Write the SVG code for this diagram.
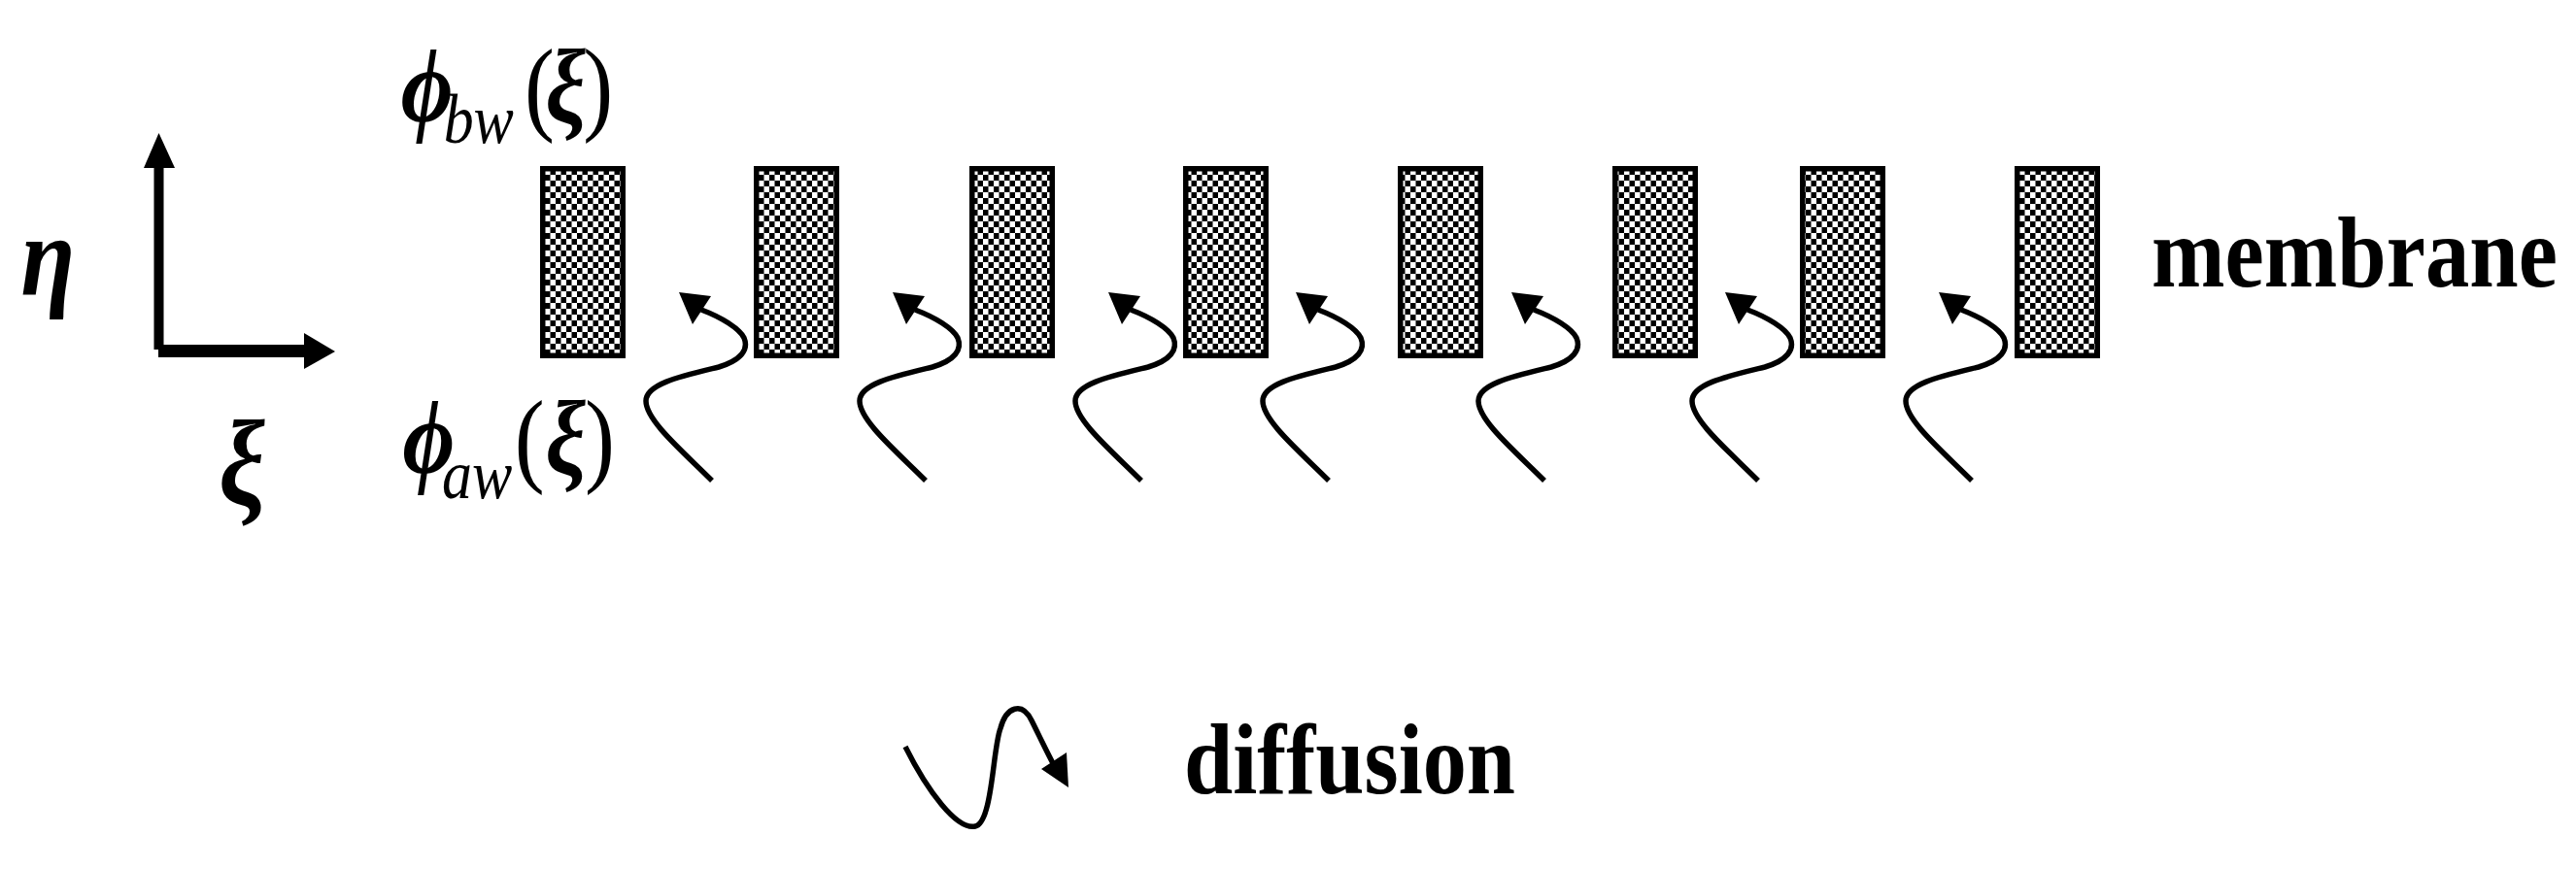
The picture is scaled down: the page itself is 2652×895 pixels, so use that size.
<svg xmlns="http://www.w3.org/2000/svg" xmlns:xlink="http://www.w3.org/1999/xlink" width="2652" height="895" viewBox="0 0 2652 895">
<style>
.memb{fill:url(#checker);stroke:#000;stroke-width:5.5}
.sq{fill:none;stroke:#000;stroke-width:5.5;stroke-linecap:butt}
.lbl{font-family:"Liberation Serif","Times New Roman",serif;fill:#000}
.bi{font-weight:bold;font-style:italic}
.it{font-weight:normal;font-style:italic}
.up{font-weight:normal;font-style:normal}
.b{font-weight:bold}
</style>
<defs>
<pattern id="checker" patternUnits="userSpaceOnUse" width="11" height="12">
<rect width="11" height="12" fill="#fff"/>
<rect width="5.5" height="6" fill="#000"/>
<rect x="5.5" y="6" width="5.5" height="6" fill="#000"/>
</pattern>
<g id="squiggle">
<path class="sq" d="M0,0 C-30,-30 -68,-62 -68,-82 C-68,-100 -30,-108 7,-117 C30,-124 38,-135 33,-147 C28,-157 10,-168 -11,-176"/>
<polygon points="-34,-194 -20,-161 -1,-190" fill="#000"/>
</g>
</defs>
<rect width="2652" height="895" fill="#fff"/>

<g id="axes">
<rect x="158.5" y="170" width="10" height="190" fill="#000"/>
<polygon points="163.5,137 148,173 180,173" fill="#000"/>
<rect x="163" y="355" width="152" height="13" fill="#000"/>
<polygon points="345,362 313,343 313,380" fill="#000"/>
<text class="lbl bi" font-size="118" transform="scale(0.86,1)" x="25" y="304">η</text>
<text class="lbl bi" font-size="124" transform="scale(0.86,1)" x="262" y="519">ξ</text>
</g>

<g id="label-phi-bw">
<text class="lbl bi" font-size="108" transform="scale(0.86,1)"><tspan x="480" y="125">ϕ</tspan><tspan class="it" x="531" y="147" font-size="72">bw</tspan><tspan class="up" x="628" y="125">(</tspan><tspan x="653" y="125">ξ</tspan><tspan class="up" x="698" y="125">)</tspan></text>
</g>
<g id="label-phi-aw">
<text class="lbl bi" font-size="108" transform="scale(0.86,1)"><tspan x="482" y="487">ϕ</tspan><tspan class="it" x="529" y="513" font-size="72">aw</tspan><tspan class="up" x="616" y="487">(</tspan><tspan x="653" y="487">ξ</tspan><tspan class="up" x="700" y="487">)</tspan></text>
</g>

<g id="membrane">
<rect class="memb" x="558.75" y="173.75" width="82.5" height="192.5"/>
<rect class="memb" x="778.75" y="173.75" width="82.5" height="192.5"/>
<rect class="memb" x="1000.75" y="173.75" width="82.5" height="192.5"/>
<rect class="memb" x="1220.75" y="173.75" width="82.5" height="192.5"/>
<rect class="memb" x="1441.75" y="173.75" width="82.5" height="192.5"/>
<rect class="memb" x="1662.75" y="173.75" width="82.5" height="192.5"/>
<rect class="memb" x="1855.75" y="173.75" width="82.5" height="192.5"/>
<rect class="memb" x="2076.75" y="173.75" width="82.5" height="192.5"/>
</g>
<g id="membrane-label">
<text class="lbl b" font-size="103" x="2215" y="295" textLength="418" lengthAdjust="spacingAndGlyphs">membrane</text>
</g>

<g id="connectors">
<use xlink:href="#squiggle" transform="translate(733,495)"/>
<use xlink:href="#squiggle" transform="translate(953,495)"/>
<use xlink:href="#squiggle" transform="translate(1175,495)"/>
<use xlink:href="#squiggle" transform="translate(1368,495)"/>
<use xlink:href="#squiggle" transform="translate(1590,495)"/>
<use xlink:href="#squiggle" transform="translate(1810,495)"/>
<use xlink:href="#squiggle" transform="translate(2030,495)"/>
</g>

<g id="legend">
<path class="sq" d="M932,769 C955,815 985,855 1004,851 C1022,847 1022,770 1030,750 C1036,728 1052,722 1062,742 C1070,758 1078,775 1085,788"/>
<polygon points="1100,811 1072,792 1098,775" fill="#000"/>
<text class="lbl b" font-size="103" x="1219" y="817" textLength="341" lengthAdjust="spacingAndGlyphs">diffusion</text>
</g>
</svg>
